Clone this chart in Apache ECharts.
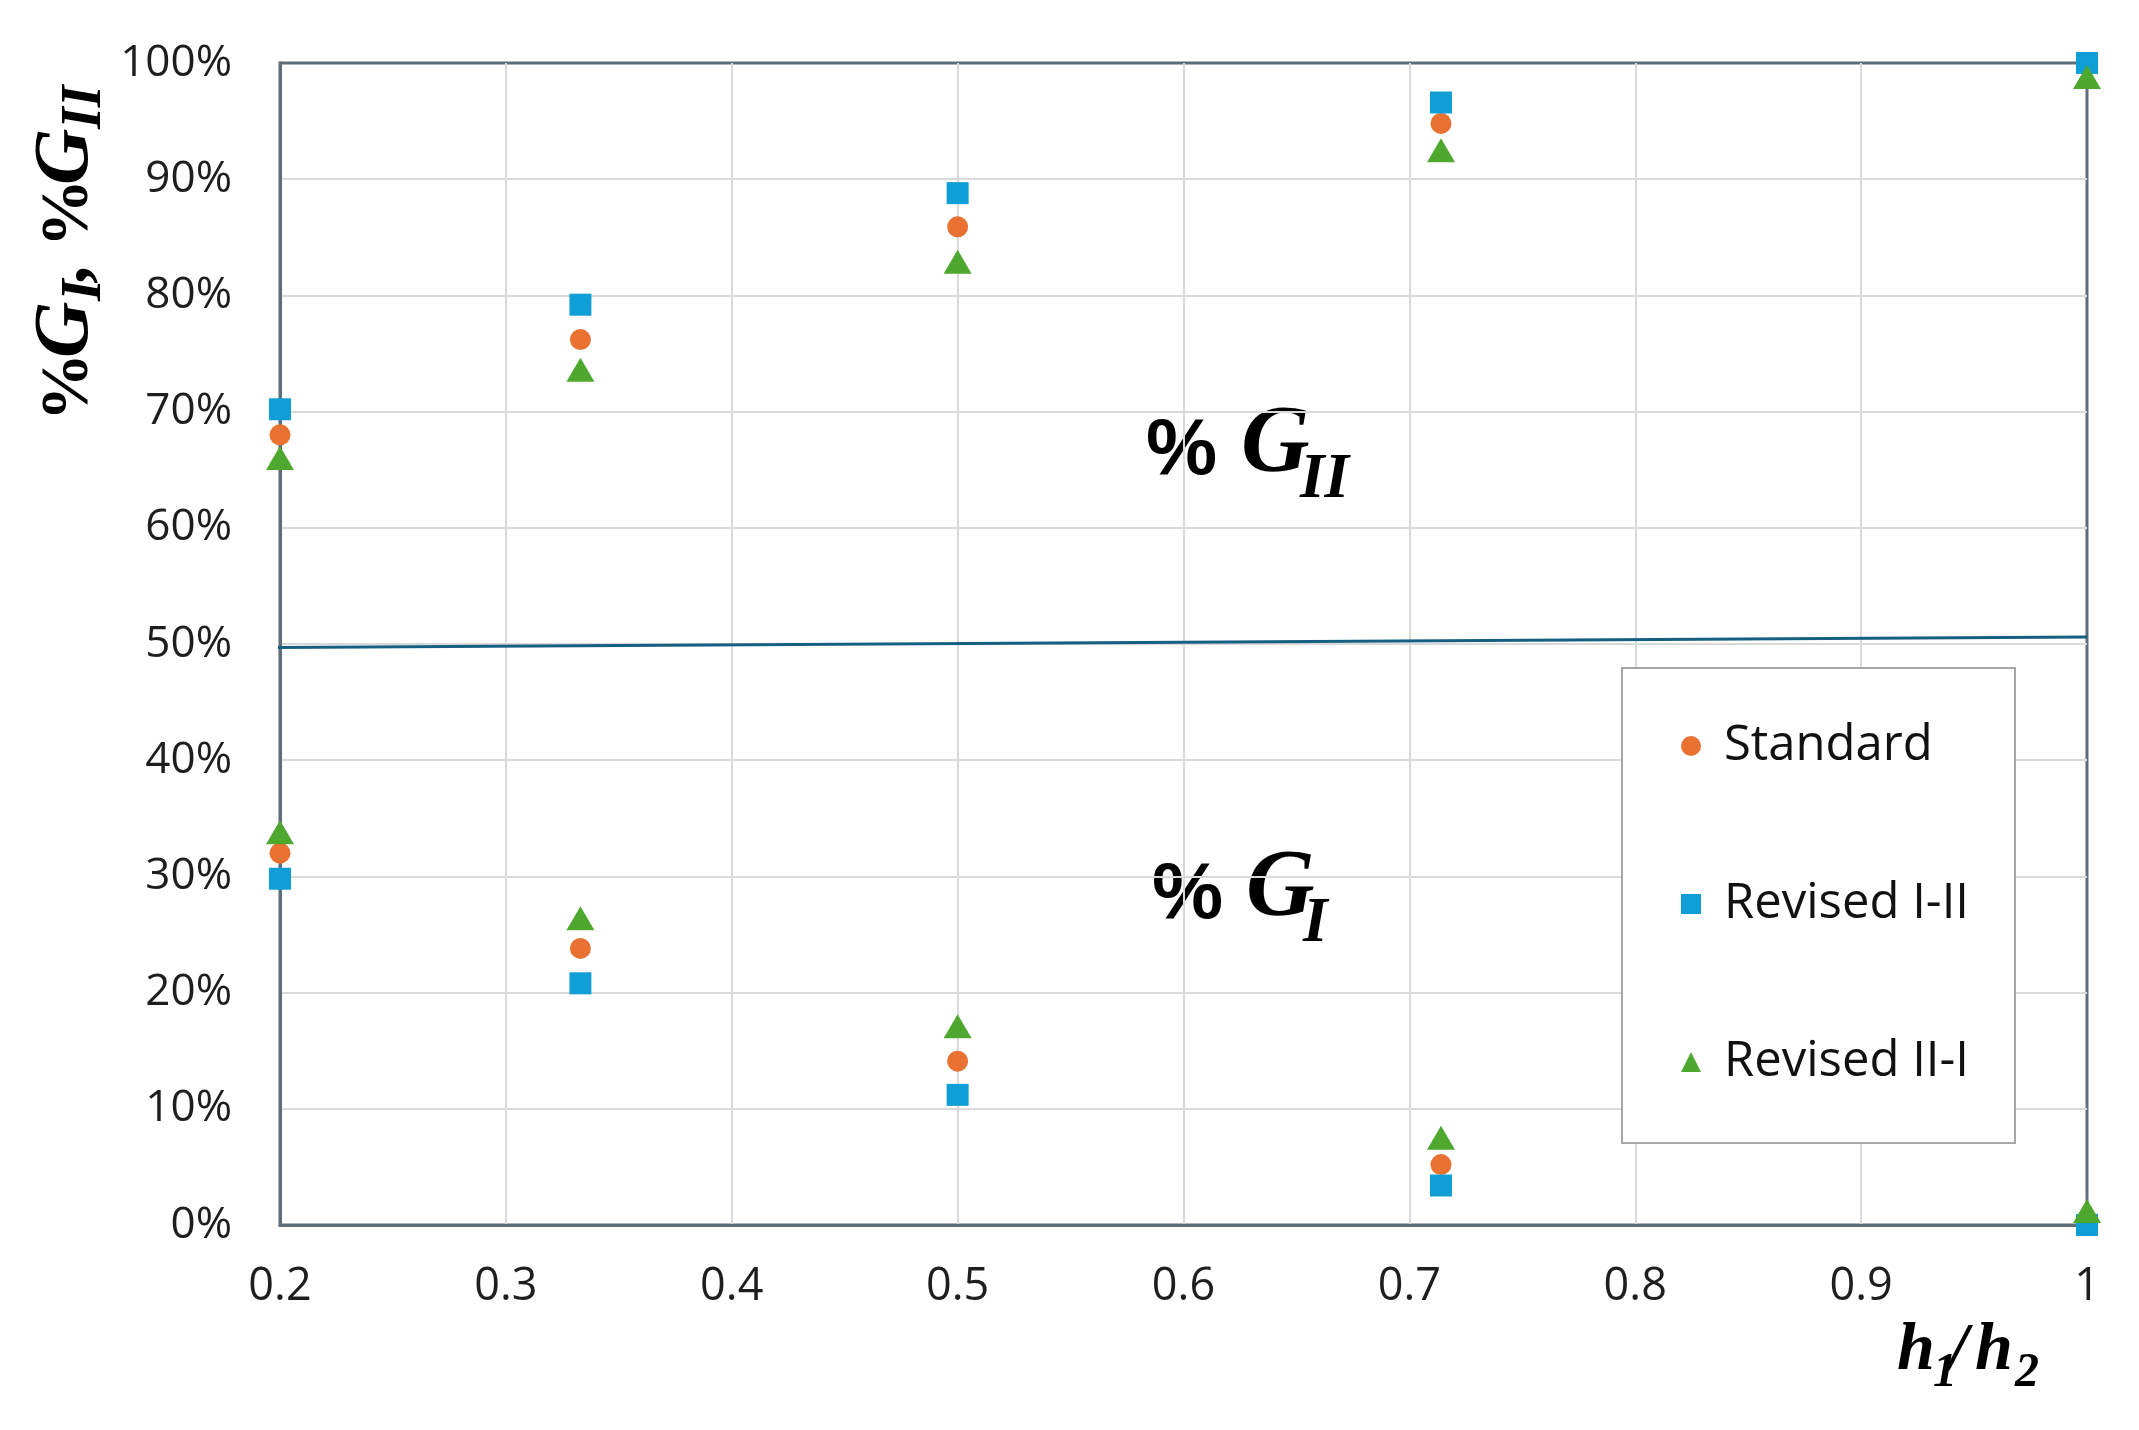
<!DOCTYPE html>
<html>
<head>
<meta charset="utf-8">
<script src="https://cdn.jsdelivr.net/npm/echarts@6/dist/echarts.min.js"></script>
<style>
  html, body { margin: 0; background: #fff; }
  #chart { width: 2139px; height: 1430px; }
</style>
</head>
<body>
<div id="chart"></div>
<script>
// h1/h2 ratios
const hRatio = [0.2, 0.333, 0.5, 0.714, 1];

// % G_II (upper group) and % G_I (lower group), per method
const standardGII = [68.0, 76.2, 85.9, 94.8, 100];
const standardGI = [32.0, 23.8, 14.1, 5.2, 0];
const revised12GII = [70.2, 79.2, 88.8, 96.6, 100];
const revised12GI = [29.8, 20.8, 11.2, 3.4, 0];
const revised21GII = [66.0, 73.6, 82.9, 92.5, 98.8];
const revised21GI = [33.8, 26.4, 17.1, 7.5, 1.2];

// hand-drawn 50% divider (slightly tilted in the original)
const dividerX = [0.197, 1];
const dividerY = [49.7, 50.6];

const seriesNames = ['Standard', 'Revised I-II', 'Revised II-I'];

const chart = echarts.init(document.getElementById('chart'));

function pts(gii, gi) {
  return hRatio.map((x, i) => [x, gii[i]]).concat(hRatio.map((x, i) => [x, gi[i]]));
}

// pieces of a math-like label, placed on a common baseline
function mathLabel(x, y, rotation, parts) {
  return {
    type: 'group', x: x, y: y, rotation: rotation,
    children: parts.map(p => ({
      type: 'text',
      x: p.dx,
      y: (p.base || 0) + p.size * 0.16,
      style: {
        text: p.t,
        font: (p.italic ? 'italic ' : '') + 'bold ' + p.size + 'px ' + (p.family || '"Liberation Serif"'),
        fill: '#000',
        textAlign: 'left',
        textVerticalAlign: 'bottom'
      }
    }))
  };
}

const sans = '"Liberation Sans"';

chart.setOption({
  animation: false,
  grid: {
    left: 280, right: 52, top: 63, bottom: 205,
    show: true, borderColor: '#5d6d7a', borderWidth: 3, backgroundColor: 'transparent'
  },
  xAxis: {
    type: 'value', min: 0.2, max: 1, interval: 0.1,
    axisLine: { show: true, lineStyle: { color: '#5d6d7a', width: 3 } },
    axisTick: { show: false },
    axisLabel: {
      margin: 40, fontSize: 45, color: '#1e1e1e', fontFamily: '"Open Sans"',
      formatter: v => String(+v.toFixed(1))
    },
    splitLine: { show: true, showMinLine: false, showMaxLine: false, lineStyle: { color: '#d9d9d9', width: 2 } }
  },
  yAxis: {
    type: 'value', min: 0, max: 100, interval: 10,
    axisLine: { show: true, lineStyle: { color: '#5d6d7a', width: 3 } },
    axisTick: { show: false },
    axisLabel: { margin: 48, fontSize: 44, color: '#1e1e1e', fontFamily: '"Open Sans"', formatter: '{value}%' },
    splitLine: { show: true, showMinLine: false, showMaxLine: false, lineStyle: { color: '#d9d9d9', width: 2 } }
  },
  legend: {
    orient: 'vertical', left: 1681, top: 716,
    itemWidth: 20, itemHeight: 20, itemGap: 98, padding: 0,
    data: seriesNames,
    textStyle: { fontSize: 49, fontFamily: '"Open Sans"', color: '#111', lineHeight: 60, padding: [0, 0, 0, 18] }
  },
  graphic: [
    {
      type: 'rect', z: 3,
      shape: { x: 1622, y: 668, width: 393, height: 475 },
      style: { fill: '#fff', stroke: '#a6a6a6', lineWidth: 2 }
    },
    mathLabel(1146, 479, 0, [
      { t: '%', size: 80, family: sans, dx: 0 },
      { t: 'G', size: 95, italic: true, dx: 1241 - 1146 },
      { t: 'II', size: 63, italic: true, dx: 1300 - 1146, base: 23 }
    ]),
    mathLabel(1152, 923, 0, [
      { t: '%', size: 80, family: sans, dx: 0 },
      { t: 'G', size: 95, italic: true, dx: 1246 - 1152 },
      { t: 'I', size: 63, italic: true, dx: 1303 - 1152, base: 23 }
    ]),
    mathLabel(1897, 1375, 0, [
      { t: 'h', size: 68, italic: true, dx: 0 },
      { t: '1', size: 48, italic: true, dx: 36, base: 15 },
      { t: '/', size: 68, italic: true, dx: 52 },
      { t: 'h', size: 68, italic: true, dx: 78 },
      { t: '2', size: 48, italic: true, dx: 118, base: 15 }
    ]),
    mathLabel(93, 421, Math.PI / 2, [
      { t: '%', size: 68, dx: 0 },
      { t: 'G', size: 78, italic: true, dx: 63 },
      { t: 'I', size: 56, italic: true, dx: 120, base: 12 },
      { t: ',', size: 72, dx: 137 },
      { t: '%', size: 68, dx: 174 },
      { t: 'G', size: 78, italic: true, dx: 236 },
      { t: 'II', size: 56, italic: true, dx: 292, base: 12 }
    ])
  ],
  series: [
    {
      type: 'line', data: dividerX.map((x, i) => [x, dividerY[i]]),
      symbol: 'none', clip: false, silent: true,
      lineStyle: { color: '#156082', width: 3 }, z: 2
    },
    {
      name: seriesNames[0], type: 'scatter', data: pts(standardGII, standardGI),
      symbol: 'circle', symbolSize: 21, clip: false,
      itemStyle: { color: '#E97132', opacity: 1 }, z: 5
    },
    {
      name: seriesNames[1], type: 'scatter', data: pts(revised12GII, revised12GI),
      symbol: 'rect', symbolSize: 22, clip: false,
      itemStyle: { color: '#0F9ED5', opacity: 1 }, z: 5
    },
    {
      name: seriesNames[2], type: 'scatter', data: pts(revised21GII, revised21GI),
      symbol: 'triangle', symbolSize: [28, 24], clip: false,
      itemStyle: { color: '#4EA72E', opacity: 1 }, z: 5
    }
  ]
});
</script>
</body>
</html>
